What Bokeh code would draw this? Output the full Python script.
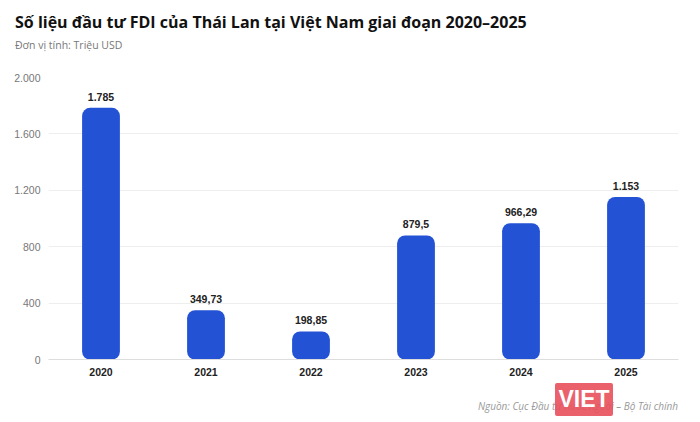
from bokeh.plotting import figure
from bokeh.models import FixedTicker, ColumnDataSource, Range1d, Div
from bokeh.layouts import column
from bokeh.core.properties import value
from bokeh.embed import file_html
from bokeh.resources import INLINE

years = ["2020", "2021", "2022", "2023", "2024", "2025"]
fdi = [1785, 349.73, 198.85, 879.5, 966.29, 1153]
fdi_labels = ["1.785", "349,73", "198,85", "879,5", "966,29", "1.153"]
y_ticks = [0, 400, 800, 1200, 1600, 2000]
y_tick_labels = ["0", "400", "800", "1.200", "1.600", "2.000"]

title_text = "Số liệu đầu tư FDI của Thái Lan tại Việt Nam giai đoạn 2020–2025"
subtitle_text = "Đơn vị tính: Triệu USD"
source_text = "Nguồn: Cục Đầu tư nước ngoài – Bộ Tài chính"
logo_text = "VIET"

W = 696
HEAD_H, MAIN_H, FOOT_H = 60, 321, 37

head_html = (
    f'<div style="position:relative;width:{W}px;height:{HEAD_H}px;'
    'font-family:\'Open Sans\',sans-serif;">'
    '<div style="position:absolute;left:15px;top:11px;font-size:16px;'
    'font-weight:700;color:#111111;line-height:22px;white-space:nowrap;">'
    f'{title_text}</div>'
    '<div style="position:absolute;left:15px;top:38px;font-size:10.5px;'
    'color:#777777;line-height:14px;white-space:nowrap;">'
    f'{subtitle_text}</div></div>'
)
head = Div(text=head_html, width=W, height=HEAD_H, margin=0)

src = ColumnDataSource(dict(x=years, top=fdi, lab=fdi_labels))
p = figure(x_range=years, y_range=Range1d(0, 2000), width=W, height=MAIN_H,
           output_backend="svg", toolbar_location=None, tools="",
           min_border_left=48, min_border_right=18, min_border_top=17,
           min_border_bottom=22)
p.outline_line_color = None
p.background_fill_color = "white"
p.border_fill_color = "white"

p.vbar(x="x", top="top", width=0.36, source=src, fill_color="#2352d5",
       line_color=None, border_radius=8)
p.text(x="x", y="top", text="lab", source=src, y_offset=-7,
       text_align="center", text_baseline="bottom", text_font_size="10.5px",
       text_font_style="bold", text_color="#222222",
       text_font=value("Liberation Sans"))

p.yaxis.ticker = FixedTicker(ticks=y_ticks)
p.yaxis.major_label_overrides = {t: l for t, l in zip(y_ticks, y_tick_labels)}
p.yaxis.axis_line_color = None
p.yaxis.major_tick_line_color = None
p.yaxis.major_tick_out = 0
p.yaxis.minor_tick_line_color = None
p.yaxis.major_label_text_color = "#777777"
p.yaxis.major_label_text_font_size = "10.5px"
p.yaxis.major_label_text_font = "Liberation Sans"
p.yaxis.major_label_standoff = 8

p.xaxis.axis_line_color = "#dddddd"
p.xaxis.major_tick_line_color = None
p.xaxis.major_tick_out = 0
p.xaxis.major_label_text_color = "#222222"
p.xaxis.major_label_text_font_style = "bold"
p.xaxis.major_label_text_font_size = "10.5px"
p.xaxis.major_label_text_font = "Liberation Sans"
p.xaxis.major_label_standoff = 8

p.xgrid.grid_line_color = None
p.ygrid.grid_line_color = "#eeeeee"

foot_html = (
    f'<div style="position:relative;width:{W}px;height:{FOOT_H}px;'
    'font-family:\'Open Sans\',sans-serif;">'
    '<div style="position:absolute;right:18px;top:18px;font-size:10px;'
    'font-style:italic;color:#999999;line-height:14px;white-space:nowrap;">'
    f'{source_text}</div>'
    '<div style="position:absolute;left:555px;top:2px;width:58px;height:33px;'
    'background:#e9505c;opacity:0.9;color:#ffffff;font-family:\'Liberation Sans\','
    'sans-serif;font-weight:700;font-size:23px;line-height:33px;text-align:center;'
    'border-radius:2px;">'
    f'{logo_text}</div></div>'
)
foot = Div(text=foot_html, width=W, height=FOOT_H, margin=0)

layout = column(head, p, foot, spacing=0)
open("out.html", "w").write(file_html(layout, INLINE))
